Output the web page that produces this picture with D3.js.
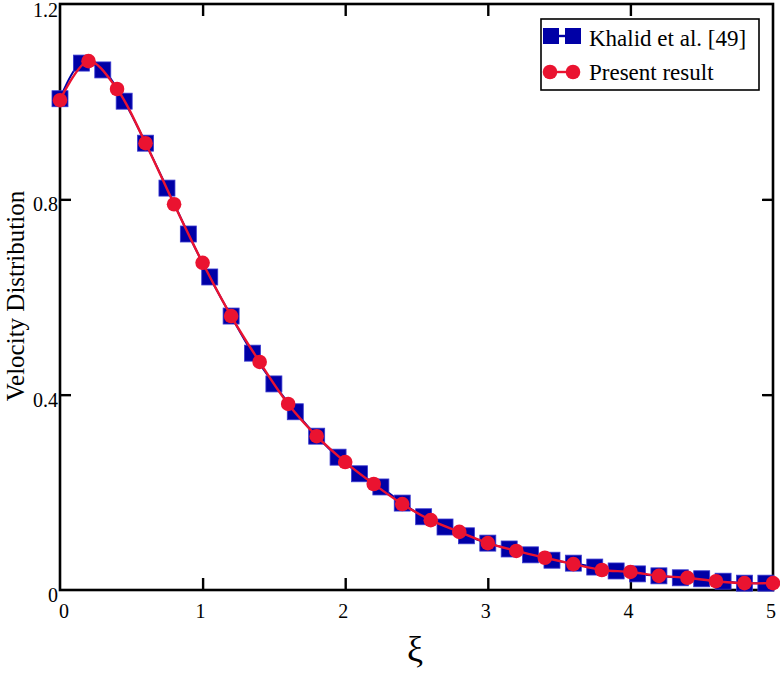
<!DOCTYPE html>
<html>
<head>
<meta charset="utf-8">
<script src="https://cdn.jsdelivr.net/npm/d3@7"></script>
<style>
  body { margin: 0; background: #fff; }
  svg { display: block; font-family: "Liberation Serif", "Times New Roman", serif; }
</style>
</head>
<body>
<svg id="chart" width="780" height="673"></svg>
<script>
// Khalid et al. [49] (step 0.15)
const khalidX = [0, 0.15, 0.3, 0.45, 0.6, 0.75, 0.9, 1.05, 1.2, 1.35, 1.5, 1.65, 1.8, 1.95,
  2.1, 2.25, 2.4, 2.55, 2.7, 2.85, 3.0, 3.15, 3.3, 3.45, 3.6, 3.75, 3.9, 4.05, 4.2, 4.35,
  4.5, 4.65, 4.8, 4.95];
const khalidY = [1.006, 1.079, 1.065, 1.001, 0.915, 0.823, 0.729, 0.641, 0.561, 0.485, 0.422,
  0.365, 0.315, 0.272, 0.238, 0.211, 0.178, 0.150, 0.129, 0.111, 0.096, 0.084, 0.072, 0.061,
  0.055, 0.047, 0.039, 0.033, 0.029, 0.025, 0.023, 0.018, 0.014, 0.014];

// Present result (step 0.2)
const presentX = [0, 0.2, 0.4, 0.6, 0.8, 1.0, 1.2, 1.4, 1.6, 1.8, 2.0, 2.2, 2.4, 2.6, 2.8,
  3.0, 3.2, 3.4, 3.6, 3.8, 4.0, 4.2, 4.4, 4.6, 4.8, 5.0];
const presentY = [1.003, 1.083, 1.026, 0.915, 0.790, 0.670, 0.561, 0.467, 0.381, 0.315, 0.262,
  0.217, 0.176, 0.143, 0.119, 0.096, 0.080, 0.066, 0.053, 0.041, 0.037, 0.029, 0.025, 0.018,
  0.014, 0.014];

const xTicks = [0, 1, 2, 3, 4, 5];
const yTicks = [0, 0.4, 0.8, 1.2];
const legendLabels = ["Khalid et al. [49]", "Present result"];

const blue = "#0000a6", red = "#ea1330";

const svg = d3.select("#chart");
const x = d3.scaleLinear().domain([0, 5]).range([60, 773]);
const y = d3.scaleLinear().domain([0, 1.2]).range([590, 4]);

const khalid = khalidX.map((v, i) => [v, khalidY[i]]);
const present = presentX.map((v, i) => [v, presentY[i]]);

// inner ticks (bottom/top at 1..4, left/right at 0.4, 0.8)
const inner = xTicks.filter(t => t > 0 && t < 5);
svg.append("g").attr("transform", "translate(0,590)")
  .call(d3.axisBottom(x).tickValues(inner).tickSizeInner(-12).tickSizeOuter(0).tickFormat(""))
  .call(g => g.select(".domain").remove());
svg.append("g").attr("transform", "translate(0,4)")
  .call(d3.axisTop(x).tickValues(inner).tickSizeInner(-12).tickSizeOuter(0).tickFormat(""))
  .call(g => g.select(".domain").remove());
const innerY = yTicks.filter(t => t > 0 && t < 1.2);
svg.append("g").attr("transform", "translate(60,0)")
  .call(d3.axisLeft(y).tickValues(innerY).tickSizeInner(-11).tickSizeOuter(0).tickFormat(""))
  .call(g => g.select(".domain").remove());
svg.append("g").attr("transform", "translate(773,0)")
  .call(d3.axisRight(y).tickValues(innerY).tickSizeInner(-11).tickSizeOuter(0).tickFormat(""))
  .call(g => g.select(".domain").remove());
svg.selectAll(".tick line").attr("stroke", "#000").attr("stroke-width", 2.4);

// frame
svg.append("rect")
  .attr("x", x(0)).attr("y", y(1.2))
  .attr("width", x(5) - x(0)).attr("height", y(0) - y(1.2))
  .attr("fill", "none").attr("stroke", "#000").attr("stroke-width", 2.6);

// tick labels
svg.append("g").selectAll("text").data(xTicks).join("text")
  .attr("x", d => x(d) + (d === 0 ? 4 : -2)).attr("y", 618)
  .attr("text-anchor", "middle").attr("font-size", 20)
  .text(d => d);
svg.append("g").selectAll("text").data(yTicks).join("text")
  .attr("x", 58).attr("y", d => d === 1.2 ? 17 : y(d) + 12)
  .attr("text-anchor", "end").attr("font-size", 20)
  .text(d => d === 0 ? "0" : d3.format(".1f")(d));

// axis titles
svg.append("text").attr("x", 415).attr("y", 661)
  .attr("text-anchor", "middle").attr("font-size", 36).text("ξ");
svg.append("text")
  .attr("transform", "translate(24,296) rotate(-90)")
  .attr("text-anchor", "middle").attr("font-size", 25).text("Velocity Distribution");

// series
const line = d3.line().x(d => x(d[0])).y(d => y(d[1])).curve(d3.curveCatmullRom);
svg.append("path").datum(khalid).attr("d", line)
  .attr("fill", "none").attr("stroke", blue).attr("stroke-width", 2);
svg.append("g").selectAll("rect").data(khalid).join("rect")
  .attr("x", d => x(d[0]) - 8).attr("y", d => y(d[1]) - 8)
  .attr("width", 16).attr("height", 16)
  .attr("fill", blue).attr("stroke", "#3a3ad0").attr("stroke-width", 0.8);

svg.append("path").datum(present).attr("d", line)
  .attr("fill", "none").attr("stroke", red).attr("stroke-width", 2.4);
svg.append("g").selectAll("circle").data(present).join("circle")
  .attr("cx", d => x(d[0])).attr("cy", d => y(d[1])).attr("r", 7.3)
  .attr("fill", red);

// legend
const lg = svg.append("g");
lg.append("rect").attr("x", 541).attr("y", 19).attr("width", 218).attr("height", 71)
  .attr("fill", "#fff").attr("stroke", "#000").attr("stroke-width", 1.6);
lg.append("line").attr("x1", 551).attr("x2", 573).attr("y1", 36).attr("y2", 36)
  .attr("stroke", blue).attr("stroke-width", 2.4);
[551, 573].forEach(cx => lg.append("rect")
  .attr("x", cx - 8).attr("y", 36 - 8).attr("width", 16).attr("height", 16).attr("fill", blue));
lg.append("line").attr("x1", 550).attr("x2", 573).attr("y1", 72).attr("y2", 72)
  .attr("stroke", red).attr("stroke-width", 2.4);
[550, 573].forEach(cx => lg.append("circle")
  .attr("cx", cx).attr("cy", 72).attr("r", 7.3).attr("fill", red));
lg.selectAll("text.lab").data(legendLabels).join("text").attr("class", "lab")
  .attr("x", 589).attr("y", (d, i) => 46 + i * 34)
  .attr("font-size", 23).text(d => d);
</script>
</body>
</html>
